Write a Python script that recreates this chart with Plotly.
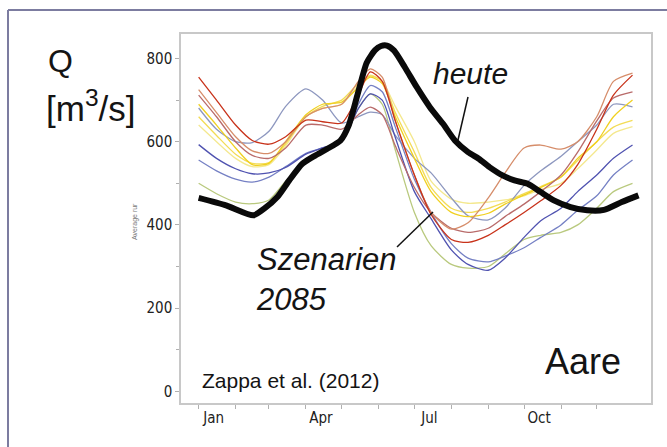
import plotly.graph_objects as go

# ---------------- data ----------------
heute_days = [1, 24, 47, 56, 67, 77, 88, 99, 109, 120, 127, 134, 142, 149, 154, 159, 165, 174,
              184, 195, 206, 216, 227, 236, 245, 256, 266, 277, 288, 299, 313, 327, 341, 356, 370]
heute_q = [465, 447, 423, 439, 467, 507, 547, 567, 583, 603, 640, 710, 790, 820, 830, 831, 819, 779,
           731, 683, 643, 603, 575, 559, 539, 519, 507, 499, 479, 459, 443, 435, 436, 455, 471]

scen_days = [1, 16, 32, 46, 60, 74, 91, 105, 121, 135, 145, 155, 166, 182, 196, 213, 227, 244,
             258, 274, 288, 305, 319, 335, 349, 365]

scen_red = [755, 700, 640, 603, 594, 612, 652, 648, 645, 712, 768, 745, 650, 520, 425, 365, 358, 375,
            400, 430, 458, 495, 545, 630, 712, 760]
scen_rosy = [712, 660, 600, 567, 560, 585, 640, 640, 630, 665, 683, 665, 590, 490, 430, 392, 382, 392,
             420, 450, 480, 520, 575, 650, 705, 720]
scen_grey = [681, 630, 600, 598, 625, 685, 727, 700, 645, 660, 671, 665, 615, 560, 525, 465, 422, 412,
             440, 495, 530, 565, 600, 640, 690, 684]
scen_yellow1 = [690, 640, 585, 545, 548, 600, 665, 690, 695, 730, 755, 740, 660, 560, 480, 430, 420, 428,
                450, 472, 490, 515, 560, 600, 660, 700]
scen_yellow2 = [640, 600, 560, 540, 545, 590, 660, 680, 690, 735, 760, 745, 685, 600, 505, 462, 452, 455,
                460, 470, 485, 500, 535, 580, 620, 636]
scen_yellow3 = [660, 615, 570, 548, 550, 595, 660, 685, 700, 740, 758, 745, 670, 575, 490, 440, 430, 440,
                455, 475, 492, 515, 555, 600, 635, 651]
scen_blue = [593, 560, 535, 523, 525, 538, 570, 585, 600, 680, 715, 700, 610, 480, 415, 340, 305, 291,
             320, 370, 410, 440, 480, 520, 560, 592]
scen_slate = [556, 530, 510, 503, 515, 540, 572, 585, 600, 690, 735, 720, 635, 510, 430, 355, 320, 311,
              325, 345, 370, 400, 435, 470, 520, 556]
scen_green = [500, 475, 455, 451, 460, 505, 555, 580, 600, 680, 715, 690, 580, 430, 350, 305, 296, 300,
              330, 365, 375, 382, 400, 440, 480, 500]
scen_orange = [725, 670, 612, 578, 572, 600, 660, 680, 690, 745, 775, 755, 650, 520, 430, 390, 405, 465,
               525, 585, 592, 582, 600, 660, 745, 765]

month_days = [1, 32, 60, 91, 121, 152, 182, 213, 244, 274, 305, 335]
month_labels = ["Jan", "", "", "Apr", "", "", "Jul", "", "", "Oct", "", ""]
y_ticks = [0, 200, 400, 600, 800]

scenarios = [
    (scen_green, "#b9c97e"),
    (scen_yellow2, "#f4e88e"),
    (scen_yellow3, "#f3dc55"),
    (scen_grey, "#8d97bf"),
    (scen_slate, "#7580c4"),
    (scen_blue, "#4f52b0"),
    (scen_yellow1, "#f0d020"),
    (scen_rosy, "#b96b6a"),
    (scen_orange, "#d68d6a"),
    (scen_red, "#c8321a"),
]

# ---------------- figure ----------------
W, H = 667, 447
L, R, T, B = 181, 651, 34, 403
X_RANGE = [-13.8, 380.5]
Y_RANGE = [-28.1, 858.9]


def px(x):
    return (x - L) / (R - L)


def py(y):
    return (B - y) / (B - T)


def dx(x):  # pixel -> data x (for the label leader lines)
    return X_RANGE[0] + (x - L) / (R - L) * (X_RANGE[1] - X_RANGE[0])


def dy(y):
    return Y_RANGE[0] + (B - y) / (B - T) * (Y_RANGE[1] - Y_RANGE[0])


fig = go.Figure()
for vals, col in scenarios:
    fig.add_trace(go.Scatter(x=scen_days, y=vals, mode="lines",
                             line=dict(color=col, width=1.3, shape="spline", smoothing=0.7),
                             hoverinfo="skip", showlegend=False))
fig.add_trace(go.Scatter(x=heute_days, y=heute_q, mode="lines",
                         line=dict(color="#0a0a0a", width=6, shape="spline", smoothing=0.6),
                         hoverinfo="skip", showlegend=False))

tick_font = dict(family="Liberation Sans Narrow, Arial Narrow, DejaVu Sans Condensed, sans-serif",
                 size=15, color="#222222")

fig.update_layout(
    width=W, height=H,
    margin=dict(l=L, r=W - R, t=T, b=H - B),
    paper_bgcolor="white", plot_bgcolor="white",
    xaxis=dict(range=X_RANGE, tickvals=month_days, ticktext=month_labels,
               ticks="outside", ticklen=4, tickcolor="#b0b0b0", tickwidth=1,
               showline=True, linecolor="#c8c8c8", linewidth=1.5, mirror=True,
               showgrid=False, zeroline=False, tickfont=tick_font,
               ticklabelshift=15, ticklabelstandoff=-4),
    yaxis=dict(range=Y_RANGE, tickvals=y_ticks,
               ticks="outside", ticklen=4, tickcolor="#b0b0b0", tickwidth=1,
               minor=dict(dtick=100, ticks="outside", ticklen=3, tickcolor="#b0b0b0"),
               showline=True, linecolor="#c8c8c8", linewidth=1.5, mirror=True,
               showgrid=False, zeroline=False, tickfont=tick_font),
)

txt = "#141414"
sans = "Liberation Sans, Arial, sans-serif"
annots = [
    dict(text="Q", x=px(46), y=py(61), xanchor="left", yanchor="middle",
         font=dict(family=sans, size=32, color=txt)),
    dict(text="[m<sup>3</sup>/s]", x=px(44), y=py(106), xanchor="left", yanchor="middle",
         font=dict(family=sans, size=35, color=txt)),
    dict(text="<i>heute</i>", x=px(470), y=py(73), xanchor="center", yanchor="middle",
         font=dict(family=sans, size=30, color=txt)),
    dict(text="<i>Szenarien</i><br><i>2085</i>", x=px(254), y=py(279), xanchor="left",
         yanchor="middle", align="left", font=dict(family=sans, size=31, color=txt)),
    dict(text="Aare", x=px(623), y=py(361), xanchor="right", yanchor="middle",
         font=dict(family=sans, size=36, color=txt)),
    dict(text="Zappa et al. (2012)", x=px(200), y=py(380), xanchor="left", yanchor="middle",
         font=dict(family=sans, size=21, color=txt)),
    dict(text="Average rur", x=px(135), y=py(222), xanchor="center", yanchor="middle",
         textangle=-90, font=dict(family=sans, size=7, color="#777777")),
]
for a in annots:
    fig.add_annotation(xref="paper", yref="paper", showarrow=False, **a)

# leader lines from the labels to the curves
fig.add_shape(type="line", xref="x", yref="y", x0=dx(468), y0=dy(97), x1=dx(458), y1=dy(140),
              line=dict(color="#111111", width=1.5))
fig.add_shape(type="line", xref="x", yref="y", x0=dx(397), y0=dy(247), x1=dx(433), y1=dy(212),
              line=dict(color="#111111", width=1.5))

# outer frame of the figure
fig.add_shape(type="line", xref="paper", yref="paper", x0=px(8), x1=px(667), y0=py(10), y1=py(10),
              line=dict(color="#7c7ca0", width=2))
fig.add_shape(type="line", xref="paper", yref="paper", x0=px(8), x1=px(8), y0=py(10), y1=py(447),
              line=dict(color="#7c7ca0", width=2))

fig.write_html("out.html", config={"displayModeBar": False},
               post_script="document.body.style.margin='0px';document.body.style.overflow='hidden';")
